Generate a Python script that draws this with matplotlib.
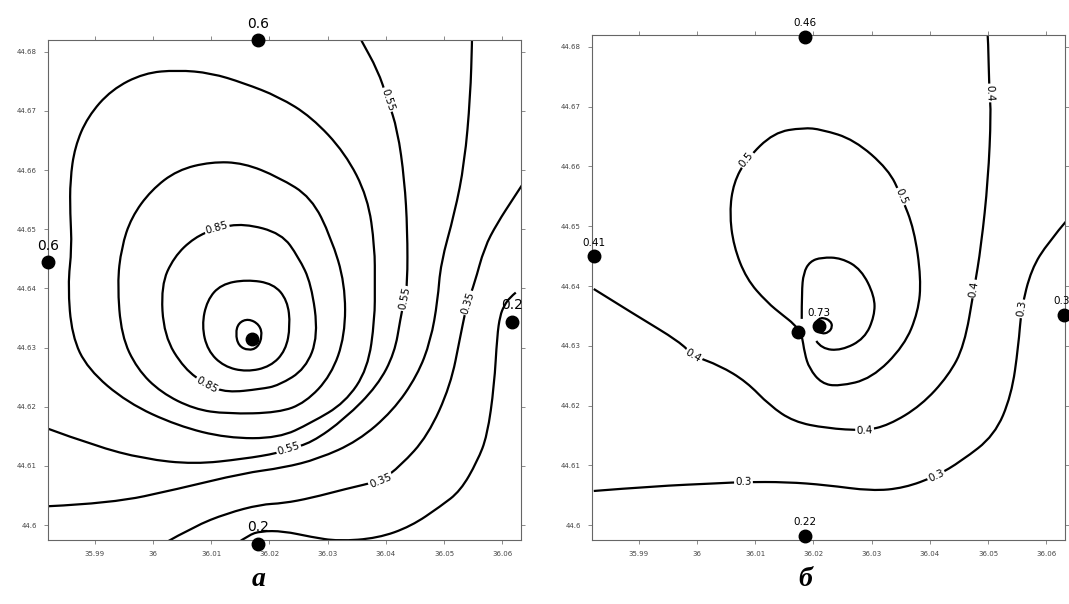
import numpy as np
import matplotlib
matplotlib.use('Agg')
import matplotlib.pyplot as plt
from matplotlib.path import Path
from matplotlib.patches import PathPatch

# ---- panel a: изолинии (долгота, широта) ----
a_r105_lon = [36.0164, 36.0183, 36.0188, 36.0180, 36.0164, 36.0147, 36.0142, 36.0147]
a_r105_lat = [44.6349, 44.6339, 44.6320, 44.6300, 44.6295, 44.6303, 44.6324, 44.6342]

a_r095_lon = [36.0161, 36.0207, 36.0231, 36.0236, 36.0228, 36.0202, 36.0161, 36.0122,
              36.0094, 36.0084, 36.0093, 36.0117]
a_r095_lat = [44.6415, 44.6408, 44.6380, 44.6337, 44.6295, 44.6268, 44.6259, 44.6268,
              44.6295, 44.6337, 44.6380, 44.6407]

a_r085_lon = [36.0110, 36.0156, 36.0221, 36.0250, 36.0272, 36.0284, 36.0262, 36.0216,
              36.0185, 36.0127, 36.0093, 36.0054, 36.0019, 36.0014, 36.0036, 36.0071]
a_r085_lat = [44.6502, 44.6510, 44.6493, 44.6453, 44.6408, 44.6320, 44.6264, 44.6236,
              44.6230, 44.6224, 44.6237, 44.6264, 44.6320, 44.6405, 44.6453, 44.6486]

a_r075_lon = [36.0100, 36.0156, 36.0216, 36.0272, 36.0306, 36.0330, 36.0330, 36.0306,
              36.0262, 36.0216, 36.0127, 36.0071, 36.0014, 35.9973, 35.9946, 35.9939,
              35.9946, 35.9963, 35.9997, 36.0042]
a_r075_lat = [44.6614, 44.6612, 44.6588, 44.6554, 44.6486, 44.6408, 44.6320, 44.6253,
              44.6207, 44.6190, 44.6188, 44.6196, 44.6224, 44.6264, 44.6320, 44.6408,
              44.6469, 44.6520, 44.6566, 44.6600]

a_r065_lon = [36.0042, 36.0100, 36.0156, 36.0216, 36.0272, 36.0330, 36.0369, 36.0381,
              36.0381, 36.0381, 36.0369, 36.0330, 36.0272, 36.0216, 36.0127, 36.0042,
              35.9956, 35.9888, 35.9861, 35.9854, 35.9861, 35.9858, 35.9858, 35.9866,
              35.9888, 35.9929, 35.9985]
a_r065_lat = [44.6769, 44.6764, 44.6747, 44.6724, 44.6690, 44.6629, 44.6554, 44.6469,
              44.6408, 44.6349, 44.6264, 44.6207, 44.6173, 44.6147, 44.6147, 44.6168,
              44.6207, 44.6264, 44.6320, 44.6405, 44.6469, 44.6527, 44.6583, 44.6639,
              44.6690, 44.6736, 44.6764]

a_l055_lon = [35.9820, 35.9900, 35.9985, 36.0071, 36.0156, 36.0216, 36.0233, 36.0272,
              36.0330, 36.0386, 36.0415, 36.0425, 36.0432, 36.0437, 36.0437, 36.0432,
              36.0420, 36.0403, 36.0386, 36.0357, 36.0352]
a_l055_lat = [44.6163, 44.6134, 44.6112, 44.6103, 44.6112, 44.6122, 44.6129, 44.6139,
              44.6180, 44.6236, 44.6291, 44.6349, 44.6383, 44.6408, 44.6498, 44.6583,
              44.6668, 44.6719, 44.6769, 44.6820, 44.6831]

a_l045_lon = [35.9820, 35.9929, 36.0042, 36.0156, 36.0224, 36.0284, 36.0352, 36.0412,
              36.0454, 36.0477, 36.0489, 36.0494, 36.0518, 36.0535, 36.0545, 36.0548,
              36.0548]
a_l045_lat = [44.6032, 44.6037, 44.6061, 44.6088, 44.6097, 44.6112, 44.6142, 44.6193,
              44.6253, 44.6312, 44.6380, 44.6442, 44.6527, 44.6612, 44.6724, 44.6820,
              44.6831]

a_l035_lon = [36.0019, 36.0071, 36.0127, 36.0185, 36.0224, 36.0272, 36.0330, 36.0391,
              36.0425, 36.0472, 36.0511, 36.0528, 36.0535, 36.0540, 36.0552, 36.0569,
              36.0591, 36.0620, 36.0634]
a_l035_lat = [44.5969, 44.5998, 44.6020, 44.6035, 44.6037, 44.6046, 44.6061, 44.6075,
              44.6100, 44.6151, 44.6236, 44.6320, 44.6354, 44.6376, 44.6408, 44.6469,
              44.6510, 44.6554, 44.6575]

a_l025_lon = [36.0144, 36.0164, 36.0185, 36.0224, 36.0272, 36.0318, 36.0386, 36.0443,
              36.0494, 36.0528, 36.0557, 36.0574, 36.0586, 36.0591, 36.0596, 36.0603,
              36.0613, 36.0623]
a_l025_lat = [44.5969, 44.5983, 44.5990, 44.5990, 44.5980, 44.5973, 44.5978, 44.5998,
              44.6032, 44.6058, 44.6108, 44.6151, 44.6236, 44.6320, 44.6354, 44.6371,
              44.6385, 44.6393]

a_st_lon = [36.0180, 35.9820, 36.0617, 36.0180, 36.0170]
a_st_lat = [44.6819, 44.6444, 44.6344, 44.5969, 44.6315]
a_st_txt = ['0.6', '0.6', '0.2', '0.2', '']

# ---- panel б ----
b_r073_lon = [36.0217, 36.0229, 36.0233, 36.0226, 36.0214, 36.0205, 36.0203, 36.0209]
b_r073_lat = [44.6347, 44.6342, 44.6332, 44.6322, 44.6320, 44.6327, 44.6337, 44.6345]

b_l06_lon = [36.0180, 36.0180, 36.0183, 36.0194, 36.0214, 36.0248, 36.0282, 36.0305,
             36.0305, 36.0288, 36.0248, 36.0214, 36.0205]
b_l06_lat = [44.6345, 44.6390, 44.6422, 44.6441, 44.6448, 44.6447, 44.6428, 44.6383,
             44.6350, 44.6312, 44.6292, 44.6295, 44.6308]

b_l05_lon = [36.0180, 36.0185, 36.0193, 36.0214, 36.0243, 36.0300, 36.0356, 36.0380,
             36.0385, 36.0373, 36.0351, 36.0329, 36.0270, 36.0214, 36.0183, 36.0132,
             36.0085, 36.0063, 36.0056, 36.0063, 36.0085, 36.0120, 36.0149, 36.0166]
b_l05_lat = [44.6320, 44.6287, 44.6262, 44.6237, 44.6232, 44.6245, 44.6300, 44.6357,
             44.6412, 44.6495, 44.6550, 44.6595, 44.6645, 44.6662, 44.6665, 44.6657,
             44.6612, 44.6573, 44.6523, 44.6467, 44.6412, 44.6373, 44.6350, 44.6337]

b_l04_lon = [35.9823, 35.9897, 35.9970, 35.9994, 36.0039, 36.0085, 36.0125, 36.0166,
             36.0222, 36.0288, 36.0329, 36.0385, 36.0432, 36.0459, 36.0476, 36.0488,
             36.0500, 36.0505, 36.0502, 36.0500, 36.0499]
b_l04_lat = [44.6395, 44.6350, 44.6307, 44.6283, 44.6267, 44.6240, 44.6200, 44.6173,
             44.6162, 44.6158, 44.6167, 44.6200, 44.6250, 44.6300, 44.6395, 44.6467,
             44.6578, 44.6690, 44.6723, 44.6812, 44.6823]

b_l03_lon = [35.9823, 35.9926, 36.0039, 36.0080, 36.0154, 36.0222, 36.0300, 36.0356,
             36.0411, 36.0454, 36.0511, 36.0540, 36.0552, 36.0557, 36.0574, 36.0603,
             36.0637]
b_l03_lat = [44.6057, 44.6065, 44.6070, 44.6072, 44.6072, 44.6067, 44.6057, 44.6062,
             44.6082, 44.6107, 44.6150, 44.6217, 44.6300, 44.6362, 44.6428, 44.6473,
             44.6512]

b_st_lon = [36.0186, 35.9823, 36.0631, 36.0186, 36.0173, 36.0209]
b_st_lat = [44.6817, 44.6450, 44.6352, 44.5982, 44.6323, 44.6333]
b_st_txt = ['0.46', '0.41', '0.3', '0.22', '', '0.73']

x_ticks = [35.99, 36.0, 36.01, 36.02, 36.03, 36.04, 36.05, 36.06]
x_labels = ['35.99', '36', '36.01', '36.02', '36.03', '36.04', '36.05', '36.06']
y_ticks = [44.6, 44.61, 44.62, 44.63, 44.64, 44.65, 44.66, 44.67, 44.68]
y_labels = ['44.6', '44.61', '44.62', '44.63', '44.64', '44.65', '44.66', '44.67', '44.68']


def smooth_path(xs, ys, closed):
    pts = np.column_stack([xs, ys])
    n = len(pts)
    if closed:
        mids = (pts + np.roll(pts, -1, axis=0)) / 2
        verts = [mids[-1]]
        codes = [Path.MOVETO]
        for i in range(n):
            verts += [pts[i], mids[i]]
            codes += [Path.CURVE3, Path.CURVE3]
    else:
        verts = [pts[0]]
        codes = [Path.MOVETO]
        for i in range(1, n - 1):
            end = pts[i + 1] if i == n - 2 else (pts[i] + pts[i + 1]) / 2
            verts += [pts[i], end]
            codes += [Path.CURVE3, Path.CURVE3]
    return Path(verts, codes)


def draw_line(ax, xs, ys, closed=False, labels=(), text=''):
    ax.add_patch(PathPatch(smooth_path(xs, ys, closed), fill=False, ec='black', lw=1.6, zorder=2))
    n = len(xs)
    for k in labels:
        i0 = (k - 1) % n if closed else max(k - 1, 0)
        i1 = (k + 1) % n if closed else min(k + 1, n - 1)
        p0 = ax.transData.transform((xs[i0], ys[i0]))
        p1 = ax.transData.transform((xs[i1], ys[i1]))
        ang = np.degrees(np.arctan2(p1[1] - p0[1], p1[0] - p0[0]))
        if ang > 90:
            ang -= 180
        if ang < -90:
            ang += 180
        ax.text(xs[k], ys[k], text, rotation=ang, rotation_mode='anchor', ha='center', va='center',
                fontsize=7.5, bbox=dict(fc='white', ec='none', pad=0.8), zorder=3)


def setup(ax):
    ax.set_xlim(35.982, 36.0632)
    ax.set_ylim(44.5975, 44.682)
    ax.set_xticks(x_ticks)
    ax.set_xticklabels(x_labels)
    ax.set_yticks(y_ticks)
    ax.set_yticklabels(y_labels)
    ax.tick_params(direction='out', length=3, width=0.6, color='#777', labelsize=5,
                   labelcolor='#444', top=True, right=True, pad=5)
    for s in ax.spines.values():
        s.set_color('#666')
        s.set_linewidth(0.8)


fig = plt.figure(figsize=(10.69, 6.04), dpi=100)
ax1 = fig.add_axes([0.0449, 0.106, 0.4425, 0.828])
ax2 = fig.add_axes([0.5538, 0.106, 0.4425, 0.836])
setup(ax1)
setup(ax2)

# панель а
draw_line(ax1, a_r105_lon, a_r105_lat, closed=True)
draw_line(ax1, a_r095_lon, a_r095_lat, closed=True)
draw_line(ax1, a_r085_lon, a_r085_lat, closed=True, labels=[0, 10], text='0.85')
draw_line(ax1, a_r075_lon, a_r075_lat, closed=True)
draw_line(ax1, a_r065_lon, a_r065_lat, closed=True)
draw_line(ax1, a_l055_lon, a_l055_lat, labels=[6, 12, 17], text='0.55')
draw_line(ax1, a_l045_lon, a_l045_lat)
draw_line(ax1, a_l035_lon, a_l035_lat, labels=[7, 13], text='0.35')
draw_line(ax1, a_l025_lon, a_l025_lat)

ax1.plot(a_st_lon, a_st_lat, 'o', color='black', ms=9, clip_on=False, zorder=5)
for x, y, t in zip(a_st_lon, a_st_lat, a_st_txt):
    if t:
        ax1.annotate(t, (x, y), xytext=(0, 7), textcoords='offset points', ha='center',
                     va='bottom', fontsize=10, annotation_clip=False, zorder=6)

# панель б
draw_line(ax2, b_r073_lon, b_r073_lat, closed=True)
draw_line(ax2, b_l06_lon, b_l06_lat)
draw_line(ax2, b_l05_lon, b_l05_lat, closed=True, labels=[10, 16], text='0.5')
draw_line(ax2, b_l04_lon, b_l04_lat, labels=[3, 9, 14, 18], text='0.4')
draw_line(ax2, b_l03_lon, b_l03_lat, labels=[3, 8, 13], text='0.3')

ax2.plot(b_st_lon, b_st_lat, 'o', color='black', ms=9, clip_on=False, zorder=5)
for x, y, t in zip(b_st_lon, b_st_lat, b_st_txt):
    if t:
        right_edge = x > 36.06
        ax2.annotate(t, (x, y), xytext=(4 if right_edge else 0, 6), textcoords='offset points',
                     ha='right' if right_edge else 'center', va='bottom', fontsize=7.5,
                     annotation_clip=False, zorder=6)

fig.text(0.242, 0.03, 'а', fontsize=20, fontweight='bold', style='italic',
         family='Liberation Serif', ha='center')
fig.text(0.753, 0.03, 'б', fontsize=20, fontweight='bold', style='italic',
         family='Liberation Serif', ha='center')

fig.savefig('out.png', dpi=100)
